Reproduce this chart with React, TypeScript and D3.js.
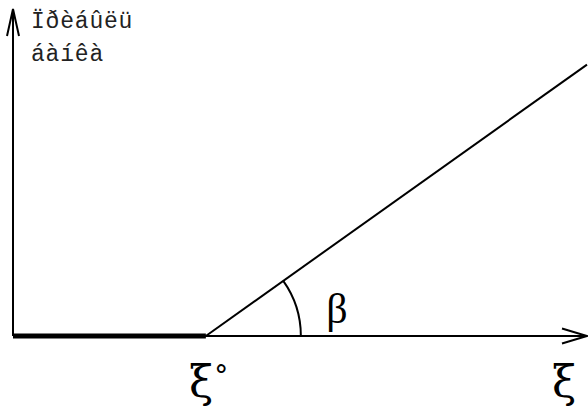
import React from "react";
import * as d3 from "d3";

// Axis title (two lines) and axis labels
const yTitleLines = ["Ïðèáûëü", "áàíêà"];
const breakEvenLabel = "ξ";
const breakEvenMark = "°";
const xAxisLabel = "ξ";
const angleLabel = "β";

// Diagram values in axis units
const breakEvenX = [33.6];
const lineEnd = [{ x: 100, y: 83 }];
const xDomain = [0, 100];
const yDomain = [0, 100];

const W = 588;
const H = 411;

export default function App() {
  const x = d3.scaleLinear().domain(xDomain).range([13, 587]);
  const y = d3.scaleLinear().domain(yDomain).range([336, 9]);

  const x0 = x(breakEvenX[0]);
  const y0 = y(0);
  const end = lineEnd[0];
  const line = d3.line<[number, number]>().x((d) => x(d[0])).y((d) => y(d[1]));

  const zeroPath = line([
    [0, 0],
    [breakEvenX[0], 0],
  ]);
  const profitPath = line([
    [breakEvenX[0], 0],
    [end.x, end.y],
  ]);

  // angle between the profit line and the x axis
  const beta = Math.atan2(y0 - y(end.y), x(end.x) - x0);
  const r = 95;
  const arc = d3.path();
  arc.moveTo(x0 + r * Math.cos(beta), y0 - r * Math.sin(beta));
  arc.arc(x0, y0, r, -beta, 0, false);

  const ax = x(xDomain[1]);
  const ay = y(yDomain[1]);
  const xo = x(0);

  return (
    <svg
      width={W}
      height={H}
      style={{ position: "absolute", left: 0, top: 0, background: "#fff" }}
    >
      {/* y axis with arrow */}
      <line x1={xo} y1={y0} x2={xo} y2={ay} stroke="#000" strokeWidth={2} />
      <polyline
        points={`${xo - 6},${ay + 27} ${xo},${ay} ${xo + 6},${ay + 27}`}
        fill="none"
        stroke="#000"
        strokeWidth={2}
      />
      {/* x axis with arrow */}
      <line x1={xo} y1={y0} x2={ax} y2={y0} stroke="#000" strokeWidth={2} />
      <polyline
        points={`${ax - 25},${y0 - 7.5} ${ax},${y0} ${ax - 25},${y0 + 7.5}`}
        fill="none"
        stroke="#000"
        strokeWidth={2}
      />
      {/* zero-profit segment */}
      <path d={zeroPath ?? ""} stroke="#000" strokeWidth={5} fill="none" />
      {/* profit line */}
      <path d={profitPath ?? ""} stroke="#000" strokeWidth={2} fill="none" />
      {/* angle arc */}
      <path d={arc.toString()} stroke="#000" strokeWidth={2} fill="none" />

      {/* axis title */}
      <g
        fontFamily="'Liberation Mono', monospace"
        fontSize={23}
        letterSpacing={0.8}
        fill="#222"
      >
        {yTitleLines.map((t, i) => (
          <text key={i} x={31} y={28 + i * 33}>
            {t}
          </text>
        ))}
      </g>

      <g fontFamily="'DejaVu Serif', serif" fill="#000">
        <text x={189} y={397} fontSize={44}>
          {breakEvenLabel}
          <tspan fontSize={28} dx={1} dy={-12}>
            {breakEvenMark}
          </tspan>
        </text>
        <text x={564} y={397} fontSize={44} textAnchor="middle">
          {xAxisLabel}
        </text>
      </g>
      <text
        x={337}
        y={323}
        fontSize={42}
        textAnchor="middle"
        fontFamily="'Liberation Serif', serif"
        fill="#000"
      >
        {angleLabel}
      </text>
    </svg>
  );
}
